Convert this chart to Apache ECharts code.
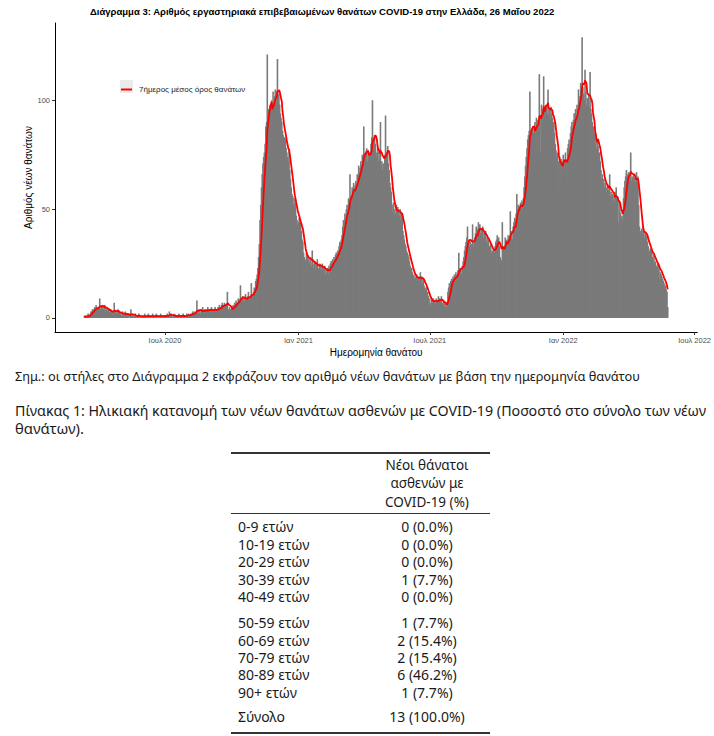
<!DOCTYPE html>
<html>
<head>
<meta charset="utf-8">
<script src="https://cdn.jsdelivr.net/npm/echarts@6/dist/echarts.min.js"></script>
<style>
  html, body { margin:0; padding:0; background:#fff; }
  body { width:714px; height:736px; position:relative; overflow:hidden; font-family:"Noto Sans","Open Sans",sans-serif; color:#1a1a1a; }
  #chart { position:absolute; left:0; top:0; width:714px; height:366px; }
  .txt { position:absolute; white-space:nowrap; transform-origin:left center; }
  .rule { position:absolute; left:231px; width:259px; background:#333; }
  .hdr { position:absolute; text-align:center; white-space:nowrap; font-size:13.5px; line-height:18.5px; }
</style>
</head>
<body>
<div id="chart"></div>
<div id="below"></div>
<script>
// ---------------- DATA ----------------
const seriesStart = '2020-03-12';
// daily new deaths by date of death
const daily2020 = [
  // Mar 12-31
  1,0,1,1,0,2,1,1,2,3,3,4,4,3,5,4,6,4,5,5,
  // Apr
  4,9,4,6,4,6,4,5,6,3,5,4,3,4,3,2,4,3,2,3,2,7,3,2,3,2,4,2,3,2,
  // May
  2,1,3,2,1,2,3,1,2,1,2,1,0,2,4,1,2,1,0,1,2,1,0,1,1,2,0,1,1,0,1,
  // Jun
  1,0,2,1,1,0,1,2,0,1,1,1,0,2,1,0,1,1,2,0,1,1,0,1,2,1,0,1,1,1,
  // Jul
  1,1,0,2,1,1,3,1,2,1,0,1,1,2,1,0,1,1,1,2,0,1,1,1,0,2,1,1,0,1,2,
  // Aug
  1,2,1,1,2,1,2,3,2,3,2,2,3,8,3,2,4,3,2,4,3,5,3,2,4,3,4,3,5,3,4,
  // Sep
  3,4,5,2,4,3,4,5,3,4,3,5,4,6,5,4,6,7,5,6,7,5,6,6,12,4,3,5,4,3,
  // Oct
  5,4,6,5,7,6,8,7,6,9,8,7,15,8,9,10,8,9,7,11,9,8,10,12,9,8,10,16,8,11,12,
  // Nov
  14,12,17,18,20,23,28,34,45,52,60,66,71,74,76,80,88,90,121,94,96,92,98,94,100,97,104,97,102,105,
  // Dec
  104,99,119,101,103,98,94,92,90,86,84,80,83,82,78,76,74,72,77,68,64,60,57,56,52,55,50,53,47,45,43
];
const daily2021 = [
  // Jan
  44,46,42,44,40,36,35,30,28,27,26,30,28,29,27,25,27,26,24,31,25,23,26,22,25,24,27,23,22,25,24,
  // Feb
  24,22,25,21,23,24,20,22,21,23,20,24,22,25,26,24,27,25,28,26,29,30,28,31,30,33,35,34,
  // Mar
  36,38,42,45,44,48,46,50,52,49,55,53,66,56,54,60,57,62,58,61,63,60,66,64,70,67,69,72,70,75,73,
  // Apr
  88,74,76,73,78,72,77,74,76,75,80,83,100,82,79,84,80,76,74,78,72,76,73,90,70,72,68,71,69,75,
  // May
  93,76,74,79,71,68,62,60,58,52,49,53,47,50,48,52,46,51,49,47,50,45,48,46,40,38,36,34,33,31,30,
  // Jun
  29,28,26,24,22,23,21,19,20,18,19,17,20,18,17,19,18,21,17,19,16,18,15,14,13,14,11,12,10,9,
  // Jul
  7,6,9,8,7,9,8,6,7,9,7,8,10,9,7,8,10,7,6,8,5,7,6,5,7,12,14,16,15,17,18,
  // Aug
  17,19,18,20,17,21,19,20,22,30,21,23,22,20,24,26,28,31,33,35,37,42,34,36,33,35,32,34,43,33,35,
  // Sep
  37,39,42,38,41,44,40,43,39,41,38,42,37,39,36,40,35,37,34,36,33,32,34,30,31,29,32,30,33,35,
  // Oct
  36,38,33,37,33,28,27,26,44,32,33,31,37,33,36,35,38,36,37,49,38,40,36,42,44,46,45,48,57,50,52,
  // Nov
  49,51,53,50,54,52,55,60,65,70,74,78,82,84,86,104,82,86,84,88,85,87,90,86,92,89,91,88,112,93,
  // Dec
  76,98,94,96,111,95,97,92,98,94,105,93,96,91,97,94,92,89,90,85,80,77,74,76,72,58,74,71,73,69,72
];
const daily2022 = [
  // Jan
  75,73,70,76,72,63,78,80,82,79,85,88,90,87,91,94,89,96,93,98,95,105,100,102,108,104,129,106,103,100,114,
  // Feb
  104,98,101,99,103,97,113,96,94,90,68,88,85,80,84,78,82,79,76,76,72,68,64,66,62,64,60,62,
  // Mar
  60,58,61,59,57,66,56,58,55,57,54,56,53,58,60,52,55,44,54,50,48,46,47,45,55,60,63,65,68,66,64,
  // Apr
  67,64,66,76,63,65,62,66,64,61,63,67,62,65,52,42,40,38,41,39,42,40,37,39,36,38,35,33,30,31,
  // May 1-25
  32,29,31,28,27,29,25,26,24,23,25,22,24,18,21,20,19,18,17,16,14,15,13,12,5
];
const movingWindow = 7;
const xTickDates = ['2020-07-01','2021-01-01','2021-07-01','2022-01-01','2022-07-01'];
const yTickValues = [0, 50, 100];
const monthNames = ['Ιαν','Φεβ','Μαρ','Απρ','Μαΐ','Ιουν','Ιουλ','Αυγ','Σεπ','Οκτ','Νοε','Δεκ'];

const chartTitle = 'Διάγραμμα 3: Αριθμός εργαστηριακά επιβεβαιωμένων θανάτων COVID-19 στην Ελλάδα, 26 Μαΐου 2022';
const yAxisTitle = 'Αριθμός νέων θανάτων';
const xAxisTitle = 'Ημερομηνία θανάτου';
const lineName = '7ήμερος μέσος όρος θανάτων';
const noteText = 'Σημ.: οι στήλες στο Διάγραμμα 2 εκφράζουν τον αριθμό νέων θανάτων με βάση την ημερομηνία θανάτου';
const tableCaption1 = 'Πίνακας 1: Ηλικιακή κατανομή των νέων θανάτων ασθενών με COVID-19 (Ποσοστό στο σύνολο των νέων';
const tableCaption2 = 'θανάτων).';
const tableHeader = ['Νέοι θάνατοι', 'ασθενών με', 'COVID-19 (%)'];
const ageGroups = ['0-9 ετών','10-19 ετών','20-29 ετών','30-39 ετών','40-49 ετών','50-59 ετών','60-69 ετών','70-79 ετών','80-89 ετών','90+ ετών'];
const ageDeaths = [0,0,0,1,0,1,2,2,6,1];
const agePercents = ['0.0','0.0','0.0','7.7','0.0','7.7','15.4','15.4','46.2','7.7'];
const totalLabel = 'Σύνολο';
const totalDeaths = 13;
const totalPercent = '100.0';

// ---------------- BUILD ----------------
const DAY = 86400000;
const t0 = Date.parse(seriesStart + 'T00:00:00Z');
const allDaily = daily2020.concat(daily2021, daily2022);
const barData = allDaily.map((v, i) => [t0 + i * DAY, v]);
const avgData = allDaily.map((v, i) => {
  const s = Math.max(0, i - movingWindow + 1);
  let sum = 0; for (let k = s; k <= i; k++) sum += allDaily[k];
  return [t0 + i * DAY, sum / (i - s + 1)];
});
const xTicks = xTickDates.map(d => Date.parse(d + 'T00:00:00Z'));

const chart = echarts.init(document.getElementById('chart'), null, { renderer: 'svg' });
const axisFont = '"Liberation Sans Narrow","Liberation Sans",Arial,sans-serif';
const titleFont = '"Liberation Sans",Arial,sans-serif';
chart.setOption({
  animation: false,
  backgroundColor: '#ffffff',
  title: {
    text: chartTitle, left: 90, top: 6, padding: 0,
    textStyle: { fontFamily: titleFont, fontSize: 9.5, fontWeight: 'bold', color: '#000' }
  },
  legend: {
    data: [lineName], left: 121, top: 85.5, icon: 'rect', itemWidth: 11, itemHeight: 2,
    itemGap: 0, padding: 0,
    textStyle: { fontFamily: titleFont, fontSize: 8, color: '#1a1a1a', padding: [0, 0, 0, 2] }
  },
  graphic: [{ type: 'rect', left: 120, top: 80, shape: { width: 13, height: 13 }, style: { fill: '#EBEBEB' }, z: -1 }],
  grid: { left: 55, top: 23, width: 645, height: 309 },
  xAxis: {
    type: 'value',
    min: Date.UTC(2020, 0, 31, 8, 24),
    max: Date.UTC(2022, 6, 4, 15, 36),
    name: xAxisTitle, nameLocation: 'middle', nameGap: 15, nameMoveOverlap: false,
    nameTextStyle: { fontFamily: titleFont, fontSize: 10, color: '#000' },
    axisLine: { onZero: false, lineStyle: { color: '#000', width: 1 } },
    axisTick: { customValues: xTicks, length: 3, lineStyle: { color: '#333' } },
    axisLabel: {
      customValues: xTicks, margin: 4, fontFamily: axisFont, fontSize: 7.5, color: '#4D4D4D',
      formatter: v => { const d = new Date(v); return monthNames[d.getUTCMonth()] + ' ' + d.getUTCFullYear(); }
    },
    splitLine: { show: false }
  },
  yAxis: {
    type: 'value', min: -6.45, max: 135.5,
    name: yAxisTitle, nameLocation: 'middle', nameGap: 22, nameRotate: 90, nameMoveOverlap: false,
    nameTextStyle: { fontFamily: titleFont, fontSize: 10, color: '#000' },
    axisLine: { show: true, lineStyle: { color: '#000', width: 1 } },
    axisTick: { show: true, customValues: yTickValues, length: 3, lineStyle: { color: '#333' } },
    axisLabel: { customValues: yTickValues, margin: 5, fontFamily: axisFont, fontSize: 7.5, color: '#4D4D4D' },
    splitLine: { show: false }
  },
  series: [
    { type: 'bar', name: 'bars', data: barData, barWidth: 1.6, itemStyle: { color: '#7A7A7A' }, silent: true },
    { type: 'line', name: lineName, data: avgData, showSymbol: false, symbol: 'none', color: '#FF0000',
      lineStyle: { color: '#FF0000', width: 1.8 }, z: 5, silent: true }
  ]
});

// ---------------- TEXT BELOW ----------------
const below = document.getElementById('below');
function addText(text, left, centerY, size, opts) {
  opts = opts || {};
  const el = document.createElement('div');
  el.className = 'txt';
  el.textContent = text;
  el.style.fontSize = size + 'px';
  el.style.lineHeight = '15px';
  el.style.top = (centerY - 7.5) + 'px';
  if (opts.center != null) {
    el.style.left = '0px';
    below.appendChild(el);
    const w = el.getBoundingClientRect().width;
    el.style.left = (opts.center - w / 2) + 'px';
  } else {
    el.style.left = left + 'px';
    below.appendChild(el);
  }
  if (opts.fitWidth) {
    const w = el.getBoundingClientRect().width;
    el.style.transform = 'scaleX(' + (opts.fitWidth / w) + ')';
  }
  return el;
}
function addRule(y, h) {
  const r = document.createElement('div');
  r.className = 'rule'; r.style.top = y + 'px'; r.style.height = h + 'px';
  below.appendChild(r);
}
addText(noteText, 15, 376, 13, { fitWidth: 625 });
addText(tableCaption1, 15, 410, 14, { fitWidth: 691 });
addText(tableCaption2, 15, 428, 14, { fitWidth: 69 });

addRule(451.5, 2);
addRule(512.5, 1.3);
addRule(732, 2);
const valueCenterX = 427;
// header as one multi-line text block
const hdr = document.createElement('div');
hdr.className = 'hdr';
tableHeader.forEach((h, i) => {
  if (i) hdr.appendChild(document.createElement('br'));
  hdr.appendChild(document.createTextNode(h));
});
hdr.style.left = '0px';
hdr.style.top = (483.5 - 18.5 * 1.5) + 'px';
below.appendChild(hdr);
const hw = hdr.getBoundingClientRect().width;
hdr.style.left = (valueCenterX - hw / 2) + 'px';

const rowY = [526.7, 544.2, 561.6, 579, 596.5, 622.5, 640, 657.4, 674.8, 692.2];
ageGroups.forEach((g, i) => {
  addText(g, 238, rowY[i], 14);
  addText(ageDeaths[i] + ' (' + agePercents[i] + '%)', 0, rowY[i], 14, { center: valueCenterX });
});
addText(totalLabel, 238, 716.7, 14);
addText(totalDeaths + ' (' + totalPercent + '%)', 0, 716.7, 14, { center: valueCenterX });
</script>
</body>
</html>
